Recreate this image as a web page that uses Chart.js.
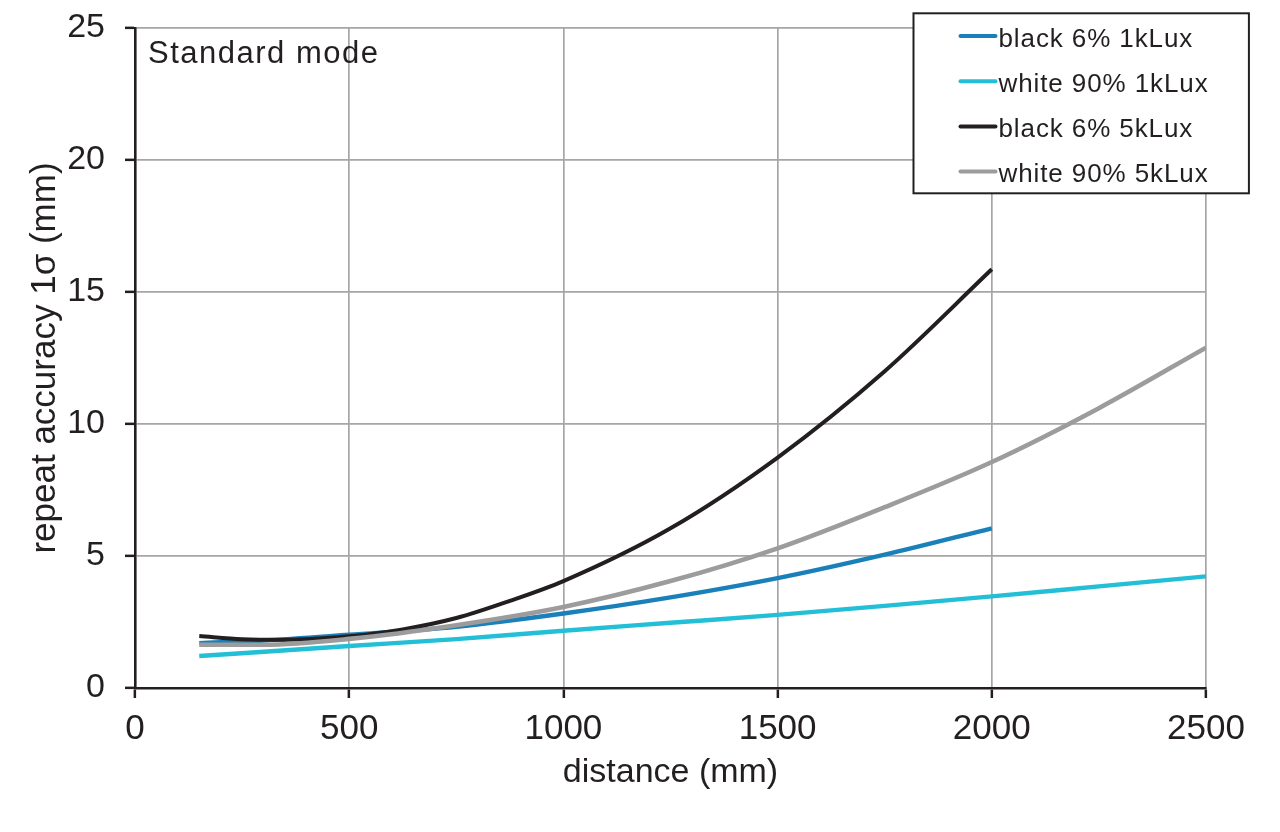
<!DOCTYPE html>
<html>
<head>
<meta charset="utf-8">
<script src="https://cdn.jsdelivr.net/npm/chart.js@4.4.1/dist/chart.umd.min.js"></script>
<style>
  html, body { margin: 0; padding: 0; background: #ffffff; }
  #wrap { width: 1280px; height: 832px; position: relative; }
</style>
</head>
<body>
<div id="wrap"><canvas id="c" width="1280" height="832"></canvas></div>
<script>
// ---- data ----
const seriesLabels = ['black 6% 1kLux', 'white 90% 1kLux', 'black 6% 5kLux', 'white 90% 5kLux'];
const seriesColors = ['#1a80ba', '#22bfd6', '#231f20', '#9c9c9c'];

const distBlack1k = [150, 300, 500, 750, 1000, 1250, 1500, 1750, 2000];
const accBlack1k  = [1.70, 1.80, 2.02, 2.32, 2.82, 3.43, 4.16, 5.05, 6.05];

const distWhite1k = [150, 500, 750, 1000, 1250, 1500, 1750, 2000, 2250, 2500];
const accWhite1k  = [1.21, 1.59, 1.85, 2.17, 2.47, 2.77, 3.11, 3.47, 3.85, 4.23];

const distBlack5k = [150, 250, 350, 500, 625, 750, 875, 1000, 1250, 1500, 1750, 2000];
const accBlack5k  = [1.97, 1.85, 1.83, 1.96, 2.22, 2.65, 3.30, 4.05, 6.05, 8.73, 12.0, 15.86];

const distWhite5k = [150, 300, 500, 750, 1000, 1250, 1500, 1750, 2000, 2250, 2500];
const accWhite5k  = [1.64, 1.64, 1.86, 2.38, 3.07, 4.05, 5.29, 6.85, 8.56, 10.6, 12.89];

const xTickValues = [0, 500, 1000, 1500, 2000, 2500];
const yTickValues = [0, 5, 10, 15, 20, 25];
const xTitle = 'distance (mm)';
const yTitle = 'repeat accuracy 1σ (mm)';
const modeLabel = 'Standard mode';

// ---- build ----
const TEXT = '#231f20';
const FONT = "'Liberation Sans', Arial, sans-serif";
const pts = (xs, ys) => xs.map((x, i) => ({ x: x, y: ys[i] }));
const seriesData = [
  pts(distBlack1k, accBlack1k),
  pts(distWhite1k, accWhite1k),
  pts(distBlack5k, accBlack5k),
  pts(distWhite5k, accWhite5k)
];
const drawOrder = [4, 3, 2, 1];
const lineWidths = [4.4, 4.4, 4, 4.6];

const datasets = seriesLabels.map((lab, i) => ({
  label: lab,
  data: seriesData[i],
  borderColor: seriesColors[i],
  backgroundColor: seriesColors[i],
  borderWidth: lineWidths[i],
  pointRadius: 0,
  pointHoverRadius: 0,
  fill: false,
  cubicInterpolationMode: 'monotone',
  borderCapStyle: 'butt',
  order: drawOrder[i]
}));

const overlayPlugin = {
  id: 'overlay',
  afterDraw(chart) {
    const ctx = chart.ctx;
    const ca = chart.chartArea;
    ctx.save();
    // mode label
    ctx.fillStyle = TEXT;
    ctx.font = '31px ' + FONT;
    ctx.textAlign = 'left';
    ctx.textBaseline = 'alphabetic';
    try { ctx.letterSpacing = '1.5px'; } catch (e) {}
    ctx.fillText(modeLabel, ca.left + 13, ca.top + 35);

    // legend box
    const bx = ca.right - 292.5, by = 13.3, bw = 335.4, bh = 180;
    ctx.fillStyle = '#ffffff';
    ctx.fillRect(bx, by, bw, bh);
    ctx.strokeStyle = TEXT;
    ctx.lineWidth = 2;
    ctx.strokeRect(bx, by, bw, bh);
    ctx.font = '26px ' + FONT;
    try { ctx.letterSpacing = '0.9px'; } catch (e) {}
    chart.data.datasets.forEach((ds, i) => {
      const cy = 36 + i * 45.2;
      ctx.strokeStyle = ds.borderColor;
      ctx.lineWidth = 4;
      ctx.lineCap = 'round';
      ctx.beginPath();
      ctx.moveTo(bx + 47, cy);
      ctx.lineTo(bx + 82, cy);
      ctx.stroke();
      ctx.fillStyle = TEXT;
      ctx.fillText(ds.label, bx + 85, cy + 10.5);
    });
    ctx.restore();
  }
};

const plainTick = (v) => String(v);

new Chart(document.getElementById('c'), {
  type: 'line',
  data: { datasets: datasets },
  options: {
    responsive: false,
    animation: false,
    devicePixelRatio: 1,
    layout: { padding: { left: 0, top: 28, right: 74, bottom: 0 } },
    plugins: { legend: { display: false }, tooltip: { enabled: false } },
    scales: {
      x: {
        type: 'linear',
        min: 0, max: 2500,
        afterBuildTicks(scale) { scale.ticks = xTickValues.map(v => ({ value: v })); },
        afterFit(scale) { scale.height = 144; },
        grid: { color: '#a6a6a6', lineWidth: 1.7, tickColor: TEXT, tickLength: 10, tickWidth: 2.5, drawTicks: true },
        border: { color: TEXT, width: 2.6 },
        ticks: { color: TEXT, font: { family: FONT, size: 35 }, padding: 10, maxRotation: 0, autoSkip: false, callback: plainTick },
        title: { display: true, text: xTitle, color: TEXT, font: { family: FONT, size: 34 }, padding: { top: 0, bottom: 39 } }
      },
      y: {
        type: 'linear',
        min: 0, max: 25,
        afterBuildTicks(scale) { scale.ticks = yTickValues.map(v => ({ value: v })); },
        afterFit(scale) { scale.width = 135; scale.paddingTop = 0; scale.paddingBottom = 0; },
        grid: { color: '#a6a6a6', lineWidth: 1.7, tickColor: TEXT, tickLength: 10, tickWidth: 2.5, drawTicks: true },
        border: { color: TEXT, width: 2.6 },
        ticks: { color: TEXT, font: { family: FONT, size: 34 }, padding: 20, autoSkip: false, callback: plainTick },
        title: { display: true, text: yTitle, color: TEXT, font: { family: FONT, size: 35 }, padding: { top: 24, bottom: 0 } }
      }
    }
  },
  plugins: [overlayPlugin]
});
</script>
</body>
</html>
